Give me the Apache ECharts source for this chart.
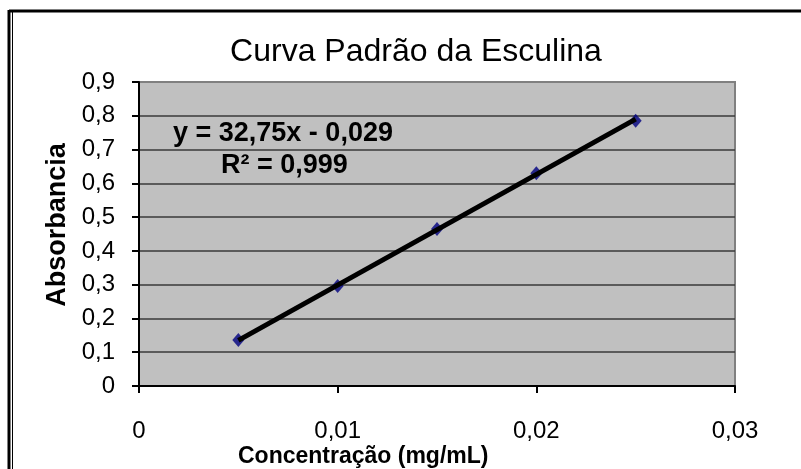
<!DOCTYPE html>
<html>
<head>
<meta charset="utf-8">
<script src="https://cdn.jsdelivr.net/npm/echarts@6/dist/echarts.min.js"></script>
<style>
  html, body { margin: 0; padding: 0; background: #fff; }
  #chart { width: 801px; height: 469px; }
</style>
</head>
<body>
<div id="chart"></div>
<script>
const concentration = [0.005, 0.01, 0.015, 0.02, 0.025];
const absorbance = [0.136, 0.296, 0.465, 0.63, 0.785];
const trendline = [[0.005, 0.135], [0.025, 0.79]];
const equationText = "y = 32,75x - 0,029";
const r2Text = "R² = 0,999";

const font = "'Liberation Sans', Arial, sans-serif";
const fmt = (v) => (v === 0 ? "0" : String(+v.toFixed(3)).replace(".", ","));

const chart = echarts.init(document.getElementById("chart"));

chart.setOption({
  animation: false,
  backgroundColor: "#fff",
  title: {
    text: "Curva Padrão da Esculina",
    left: 411,
    top: 31,
    textAlign: "center",
    textStyle: { fontFamily: font, fontSize: 32, fontWeight: "normal", color: "#000" },
  },
  grid: {
    left: 139,
    top: 82,
    right: 66,
    bottom: 83,
    show: true,
    backgroundColor: "#c0c0c0",
    borderColor: "#808080",
    borderWidth: 2,
  },
  xAxis: {
    type: "value",
    min: 0,
    max: 0.03,
    interval: 0.01,
    axisLine: { show: true, lineStyle: { color: "#000", width: 2 } },
    axisTick: { show: true, length: 7, lineStyle: { color: "#000", width: 2 } },
    axisLabel: { fontFamily: font, fontSize: 24, color: "#000", margin: 33, formatter: fmt },
    splitLine: { show: false },
  },
  yAxis: {
    type: "value",
    min: 0,
    max: 0.9,
    interval: 0.1,
    name: "Absorbancia",
    nameLocation: "middle",
    nameGap: 68,
    nameTextStyle: { fontFamily: font, fontSize: 27, fontWeight: "bold", color: "#000", padding: [0, 0, 0, 18] },
    axisLine: { show: true, lineStyle: { color: "#000", width: 2 } },
    axisTick: { show: true, length: 7, lineStyle: { color: "#000", width: 2 } },
    axisLabel: { fontFamily: font, fontSize: 24, color: "#000", margin: 24, formatter: fmt },
    splitLine: { show: true, showMaxLine: false, lineStyle: { color: "#3a3a3a", width: 1.5 } },
  },
  graphic: [
    { type: "line", shape: { x1: 9, y1: 11, x2: 801, y2: 11 }, style: { stroke: "#000", lineWidth: 3 } },
    { type: "line", shape: { x1: 9, y1: 10, x2: 9, y2: 469 }, style: { stroke: "#000", lineWidth: 3 } },
    { type: "line", shape: { x1: 12.5, y1: 12, x2: 12.5, y2: 469 }, style: { stroke: "#000", lineWidth: 1 } },
    {
      type: "text", left: 173, top: 120, z: 10,
      style: { text: equationText, font: "bold 27px " + font, fill: "#000" },
    },
    {
      type: "text", left: 221, top: 152, z: 10,
      style: { text: r2Text, font: "bold 27px " + font, fill: "#000" },
    },
    {
      type: "text", left: 238, top: 445, z: 10,
      style: { text: "Concentração (mg/mL)", font: "bold 23px " + font, fill: "#000" },
    },
  ],
  series: [
    {
      type: "scatter",
      data: concentration.map((c, i) => [c, absorbance[i]]),
      symbol: "diamond",
      symbolSize: [12, 14],
      itemStyle: { color: "#000080" },
      z: 2,
    },
    {
      type: "line",
      data: trendline,
      symbol: "none",
      lineStyle: { color: "#000", width: 5 },
      z: 3,
    },
  ],
});
</script>
</body>
</html>
